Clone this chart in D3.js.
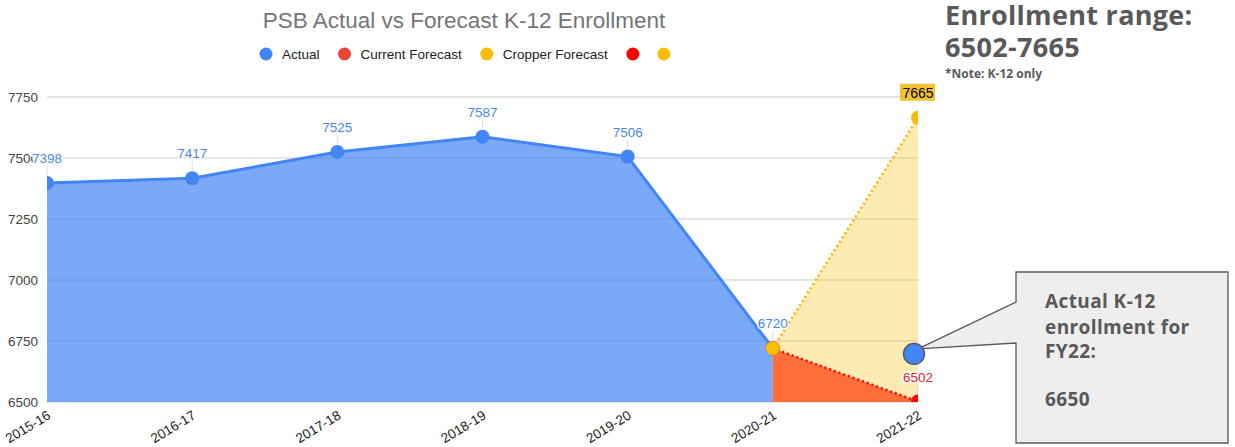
<!DOCTYPE html>
<html>
<head>
<meta charset="utf-8">
<script src="https://cdn.jsdelivr.net/npm/d3@7"></script>
<style>
  body { margin: 0; background: #fff; }
  svg text { font-family: "Liberation Sans", Arial, sans-serif; }
  svg text.note { font-family: "Open Sans", sans-serif; font-weight: bold; fill: #595959; }
</style>
</head>
<body>
<svg id="chart" width="1235" height="447"></svg>
<script>
var categories = ["2015-16", "2016-17", "2017-18", "2018-19", "2019-20", "2020-21", "2021-22"];
var actual          = [7398, 7417, 7525, 7587, 7506, 6720, null];
var currentForecast = [null, null, null, null, null, 6720, 6502];
var cropperForecast = [null, null, null, null, null, 6720, 7665];
var yTicks = [6500, 6750, 7000, 7250, 7500, 7750];

var legendNames  = ["Actual", "Current Forecast", "Cropper Forecast", "", ""];
var legendColors = ["#4285f4", "#ea4335", "#fbbc04", "#ff0000", "#fbbc04"];

var rangeLow = 6502, rangeHigh = 7665;
var fy22Actual = 6650;
var markerValue = 6697;   // where the hand drawn marker sits on the chart

var svg = d3.select("#chart");

var plotLeft = 47, plotRight = 918, plotTop = 97, plotBottom = 402;

var x = d3.scalePoint().domain(categories).range([plotLeft, plotRight]);
var y = d3.scaleLinear().domain([6500, 7750]).range([plotBottom, plotTop]);

function toPoints(values) {
    var pts = [];
    for (let i = 0; i < values.length; i++) {
        if (values[i] != null) pts.push({ cat: categories[i], v: values[i] });
    }
    return pts;
}

var actualPts = toPoints(actual);
var currentPts = toPoints(currentForecast);
var cropperPts = toPoints(cropperForecast);

// title
svg.append("text")
    .attr("x", 464).attr("y", 28)
    .attr("text-anchor", "middle")
    .style("font-size", "22.5px")
    .style("fill", "#757575")
    .text("PSB Actual vs Forecast K-12 Enrollment");

// legend
var lx = 266;
for (let i = 0; i < legendNames.length; i++) {
    svg.append("circle").attr("cx", lx).attr("cy", 54).attr("r", 6.5).style("fill", legendColors[i]);
    var end = lx + 6;
    if (legendNames[i] != "") {
        var t = svg.append("text")
            .attr("x", lx + 16).attr("y", 59)
            .style("font-size", "13.5px")
            .style("fill", "#222")
            .text(legendNames[i]);
        end = lx + 16 + t.node().getComputedTextLength();
    }
    lx = end + 25;
}

// gridlines
svg.append("g").selectAll("line")
    .data(yTicks)
    .enter().append("line")
    .attr("x1", plotLeft).attr("x2", plotRight)
    .attr("y1", function(d) { return y(d); })
    .attr("y2", function(d) { return y(d); })
    .style("stroke", "#cccccc")
    .style("stroke-width", 1);

// y axis labels
var yAxis = svg.append("g")
    .attr("transform", "translate(38,0)")
    .call(d3.axisLeft(y).tickValues(yTicks).tickSize(0).tickPadding(0).tickFormat(d3.format("d")));
yAxis.select(".domain").remove();
yAxis.selectAll("text")
    .style("font-family", "\"Liberation Sans\", Arial, sans-serif")
    .style("font-size", "13.5px")
    .style("fill", "#444");

// x axis labels
var xAxis = svg.append("g")
    .attr("transform", "translate(0," + plotBottom + ")")
    .call(d3.axisBottom(x).tickSize(0));
xAxis.select(".domain").remove();
xAxis.selectAll("text")
    .attr("y", 0).attr("dy", 0)
    .attr("text-anchor", "end")
    .attr("transform", "translate(4,16) rotate(-31)")
    .style("font-family", "\"Liberation Sans\", Arial, sans-serif")
    .style("font-size", "13.5px")
    .style("fill", "#222");

// plot area with clipping
svg.append("clipPath").attr("id", "plotClip")
    .append("rect").attr("x", plotLeft).attr("y", 0).attr("width", plotRight - plotLeft).attr("height", plotBottom);

var plot = svg.append("g").attr("clip-path", "url(#plotClip)");

var area = d3.area()
    .x(function(d) { return x(d.cat); })
    .y0(y(6500))
    .y1(function(d) { return y(d.v); });
var line = d3.line()
    .x(function(d) { return x(d.cat); })
    .y(function(d) { return y(d.v); });

plot.append("path").datum(actualPts).attr("d", area)
    .style("fill", "#4285f4").style("fill-opacity", 0.7);
plot.append("path").datum(cropperPts).attr("d", area)
    .style("fill", "#fbbc04").style("fill-opacity", 0.3);
plot.append("path").datum(currentPts).attr("d", area)
    .style("fill", "#ff6d38");

plot.append("path").datum(actualPts).attr("d", line)
    .style("fill", "none").style("stroke", "#4285f4").style("stroke-width", 3);
plot.append("path").datum(currentPts).attr("d", line)
    .style("fill", "none").style("stroke", "#ff0000").style("stroke-width", 2.5)
    .style("stroke-dasharray", "2,3");
plot.append("path").datum(cropperPts).attr("d", line)
    .style("fill", "none").style("stroke", "#f4b400").style("stroke-width", 2.5)
    .style("stroke-dasharray", "2,3");

function dots(pts, color) {
    plot.append("g").selectAll("circle")
        .data(pts)
        .enter().append("circle")
        .attr("cx", function(d) { return x(d.cat); })
        .attr("cy", function(d) { return y(d.v); })
        .attr("r", 7)
        .style("fill", color);
}
dots(actualPts, "#4285f4");
dots(currentPts, "#ff0000");
dots(cropperPts, "#fbbc04");

// data labels
function labels(pts, color) {
    var g = svg.append("g");
    g.selectAll("line")
        .data(pts)
        .enter().append("line")
        .attr("x1", function(d) { return x(d.cat); })
        .attr("x2", function(d) { return x(d.cat); })
        .attr("y1", function(d) { return y(d.v) - 17; })
        .attr("y2", function(d) { return y(d.v) - 8; })
        .style("stroke", "#dddddd");
    g.selectAll("text")
        .data(pts)
        .enter().append("text")
        .attr("x", function(d) { return x(d.cat); })
        .attr("y", function(d) { return y(d.v) - 20; })
        .attr("text-anchor", "middle")
        .style("font-size", "13.5px")
        .style("fill", color)
        .style("stroke", "#fff")
        .style("stroke-width", 3)
        .style("paint-order", "stroke")
        .text(function(d) { return d.v; });
}
labels(actualPts, "#4a86e8");
labels(currentPts.slice(1), "#e8202a");

// highlighted high forecast label
var hi = cropperPts[cropperPts.length - 1];
svg.append("rect")
    .attr("x", x(hi.cat) - 18).attr("y", y(hi.v) - 34)
    .attr("width", 35).attr("height", 17)
    .style("fill", "#f1c232");
svg.append("text")
    .attr("x", x(hi.cat)).attr("y", y(hi.v) - 20)
    .attr("text-anchor", "middle")
    .style("font-size", "14px")
    .style("fill", "#000")
    .text(hi.v);

// range heading
svg.append("text").attr("class", "note").attr("x", 945).attr("y", 25)
    .style("font-size", "27px").style("letter-spacing", "0.3px")
    .text("Enrollment range:");
svg.append("text").attr("class", "note").attr("x", 945).attr("y", 57)
    .style("font-size", "27px").style("letter-spacing", "0.3px")
    .text(rangeLow + "-" + rangeHigh);
svg.append("text").attr("class", "note").attr("x", 945).attr("y", 78)
    .style("font-size", "12px")
    .text("*Note: K-12 only");

// callout
var tipX = x(categories[6]), tipY = y(markerValue) - 5;
svg.append("path")
    .attr("d", "M1016,272 L1228,272 L1228,443 L1016,443 L1016,343 L" + tipX + "," + tipY + " L1016,302 Z")
    .style("fill", "#eeeeee")
    .style("stroke", "#595959")
    .style("stroke-width", 1.3);

svg.append("circle")
    .attr("cx", x(categories[6]) - 4).attr("cy", y(markerValue))
    .attr("r", 10.5)
    .style("fill", "#4285f4")
    .style("stroke", "#555")
    .style("stroke-width", 1.3);

var calloutLines = ["Actual K-12", "enrollment for", "FY22:", "", String(fy22Actual)];
var calloutY = [308, 334, 358, 383, 406];
for (let i = 0; i < calloutLines.length; i++) {
    svg.append("text").attr("class", "note").attr("x", 1045).attr("y", calloutY[i])
        .style("font-size", "19px").style("letter-spacing", "0.4px")
        .text(calloutLines[i]);
}
</script>
</body>
</html>
